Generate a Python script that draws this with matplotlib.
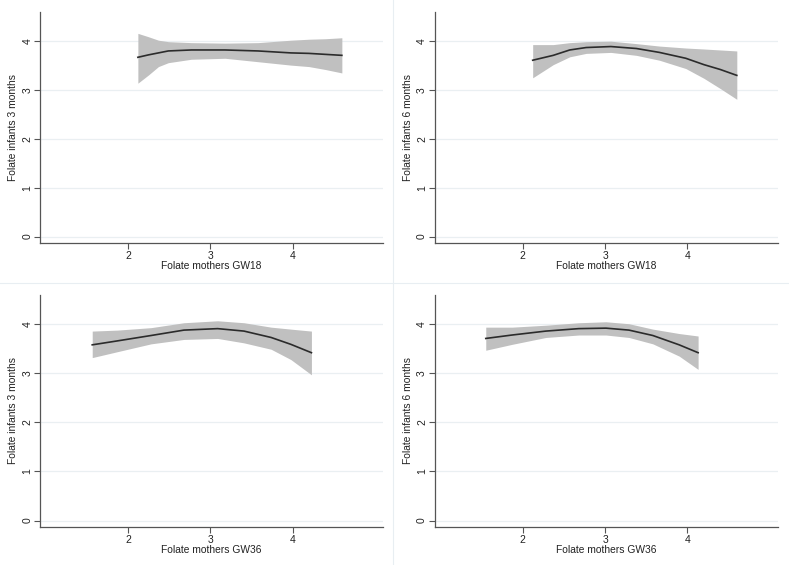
import matplotlib.pyplot as plt
from matplotlib.lines import Line2D

plt.rcParams['font.family'] = ['Liberation Sans', 'DejaVu Sans']

# panel 1: infants 3 months vs mothers GW18
x1 = [2.12, 2.25, 2.37, 2.49, 2.77, 3.18, 3.58, 3.98, 4.2, 4.4, 4.6]
fit1 = [3.67, 3.72, 3.76, 3.80, 3.82, 3.82, 3.80, 3.76, 3.75, 3.73, 3.71]
hi1 = [4.16, 4.09, 4.02, 3.99, 3.97, 3.96, 3.97, 4.02, 4.04, 4.05, 4.07]
lo1 = [3.14, 3.31, 3.48, 3.56, 3.63, 3.65, 3.58, 3.51, 3.48, 3.42, 3.35]

# panel 2: infants 6 months vs mothers GW18
x2 = [2.12, 2.37, 2.57, 2.77, 3.07, 3.38, 3.66, 3.98, 4.2, 4.4, 4.6]
fit2 = [3.61, 3.71, 3.82, 3.87, 3.89, 3.85, 3.77, 3.65, 3.52, 3.42, 3.30]
hi2 = [3.93, 3.93, 3.97, 3.99, 4.00, 3.95, 3.90, 3.86, 3.84, 3.82, 3.80]
lo2 = [3.25, 3.52, 3.68, 3.75, 3.77, 3.71, 3.61, 3.44, 3.24, 3.03, 2.81]

# panel 3: infants 3 months vs mothers GW36
x3 = [1.565, 1.87, 2.28, 2.68, 3.09, 3.41, 3.74, 3.98, 4.23]
fit3 = [3.58, 3.66, 3.77, 3.88, 3.91, 3.86, 3.73, 3.59, 3.42]
hi3 = [3.86, 3.88, 3.93, 4.03, 4.07, 4.03, 3.94, 3.90, 3.86]
lo3 = [3.32, 3.44, 3.60, 3.69, 3.71, 3.62, 3.49, 3.28, 2.97]

# panel 4: infants 6 months vs mothers GW36
x4 = [1.55, 1.87, 2.28, 2.68, 3.01, 3.29, 3.58, 3.90, 4.13]
fit4 = [3.71, 3.78, 3.86, 3.91, 3.92, 3.88, 3.77, 3.58, 3.42]
hi4 = [3.94, 3.94, 3.98, 4.03, 4.05, 4.01, 3.90, 3.81, 3.76]
lo4 = [3.47, 3.59, 3.73, 3.78, 3.78, 3.73, 3.60, 3.35, 3.08]

ylabels = ["Folate infants 3 months", "Folate infants 6 months",
           "Folate infants 3 months", "Folate infants 6 months"]
xlabels = ["Folate mothers GW18", "Folate mothers GW18",
           "Folate mothers GW36", "Folate mothers GW36"]
yticks = [0, 1, 2, 3, 4]
xticks = [2, 3, 4]

panels = [(x1, fit1, hi1, lo1), (x2, fit2, hi2, lo2),
          (x3, fit3, hi3, lo3), (x4, fit4, hi4, lo4)]

fig = plt.figure(figsize=(7.89, 5.65), dpi=100)
boxes = [[0.0507, 0.570, 0.4347, 0.409], [0.551, 0.570, 0.435, 0.409],
         [0.0507, 0.0673, 0.4347, 0.411], [0.551, 0.0673, 0.435, 0.411]]

axc = '#555555'
for i, (x, fit, hi, lo) in enumerate(panels):
    ax = fig.add_axes(boxes[i])
    ax.fill_between(x, lo, hi, color='#c0c0c0', linewidth=0)
    ax.plot(x, fit, color='#2b2b2b', linewidth=1.2)
    ax.set_xlim(0.93, 5.1)
    ax.set_ylim(-0.13, 4.6)
    ax.set_yticks(yticks)
    ax.set_xticks(xticks)
    ax.set_yticklabels([str(t) for t in yticks], rotation=90, va='center')
    for s in ['top', 'right']:
        ax.spines[s].set_visible(False)
    for s in ['left', 'bottom']:
        ax.spines[s].set_color(axc)
        ax.spines[s].set_linewidth(0.9)
    ax.tick_params(colors=axc, labelcolor='#222222', labelsize=7.5, length=4, width=0.8, pad=1.5)
    ax.grid(axis='y', color='#eaeff2', linewidth=0.9)
    ax.set_axisbelow(True)
    ax.set_xlabel(xlabels[i], fontsize=7.4, color='#222222', labelpad=0.5)
    ax.set_ylabel(ylabels[i], fontsize=7.4, color='#222222', labelpad=3)

# faint borders between the combined graphs
fig.add_artist(Line2D([0.498, 0.498], [0.0, 1.0], color='#e8eef2', linewidth=0.8))
fig.add_artist(Line2D([0.0, 1.0], [0.499, 0.499], color='#e8eef2', linewidth=0.8))

fig.savefig('out.png', dpi=100, facecolor='white')
